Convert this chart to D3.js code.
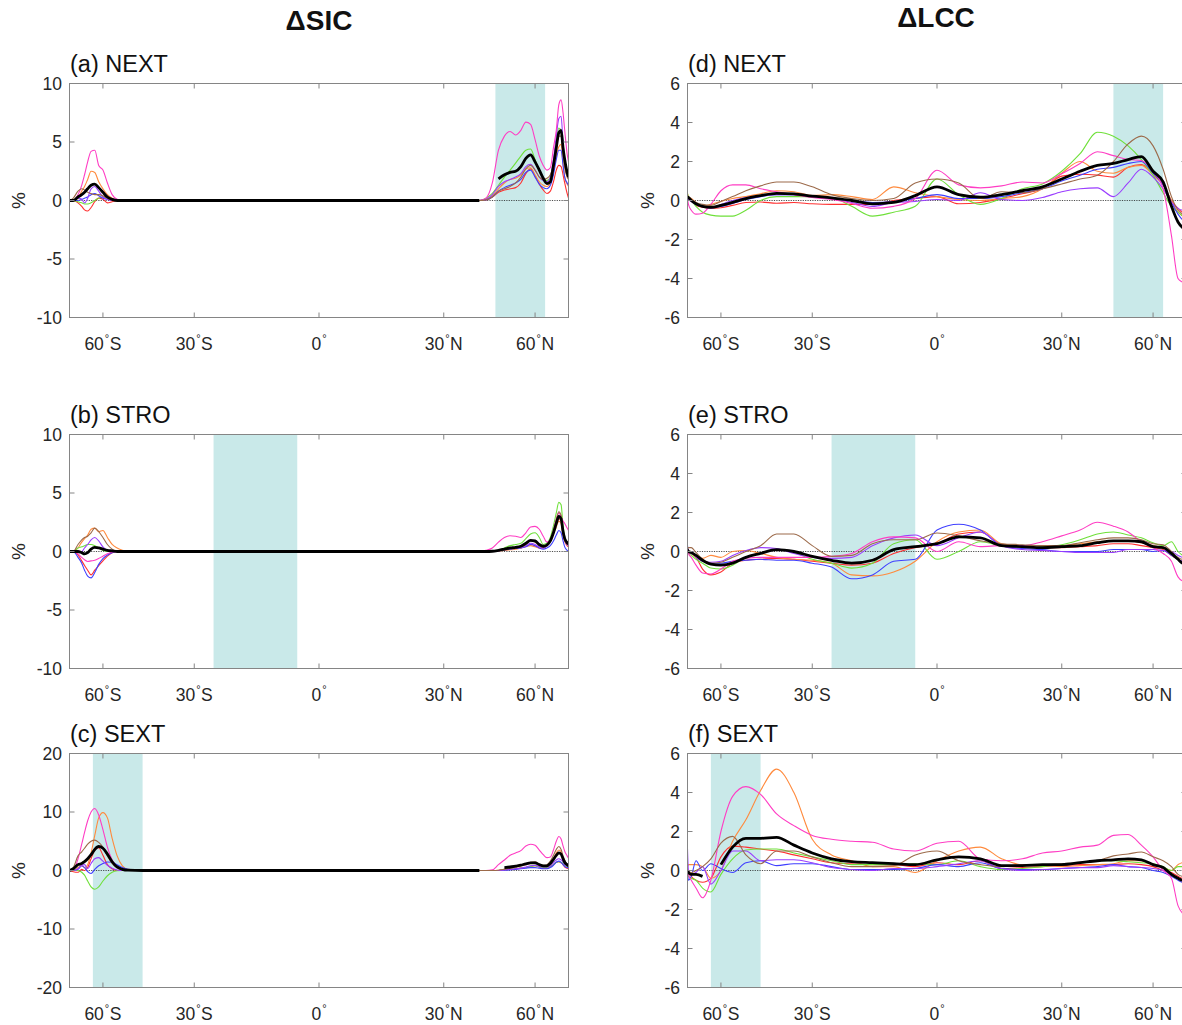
<!DOCTYPE html>
<html>
<head>
<meta charset="utf-8">
<script src="https://cdn.jsdelivr.net/npm/d3@7"></script>
<style>
  body { margin: 0; background: #fff; }
  svg { display: block; font-family: "Liberation Sans", Arial, Helvetica, sans-serif; }
</style>
</head>
<body>
<svg id="chart" width="1182" height="1025"></svg>
<script>
// ensemble members (last row of every table is the ensemble mean)
var members = ['red', 'orange', 'green', 'blue', 'purple', 'magenta', 'brown'];
var memberColors = ['#ff3030', '#ff8a3d', '#6fe03a', '#3f3fff', '#9a3dff', '#ff3dc4', '#9c6a4a'];

// latitude grids
var sicLatSH = [-90, -80, -75, -72, -70, -68, -66, -64, -62, -60, -58, -56, -54, -52, -50, -45, -40];
var sicLatNH = [40, 42, 44, 46, 48, 50, 52, 54, 56, 58, 60, 62, 64, 66, 68, 70, 72, 74, 76, 78, 80, 84, 90];
var lccLat = [-90, -85, -80, -75, -70, -65, -60, -55, -50, -45, -40, -35, -30, -25, -20, -15, -10, -5, 0,
  5, 10, 15, 20, 25, 30, 35, 40, 45, 50, 55, 60, 65, 70, 75, 80, 85, 90];

// axis ticks
var xTickLat = [-60, -30, 0, 30, 60];
var xTickText = [['60', 'S'], ['30', 'S'], ['0', ''], ['30', 'N'], ['60', 'N']];
var sicTicks = [-10, -5, 0, 5, 10];
var sicTicksWide = [-20, -10, 0, 10, 20];
var lccTicks = [-6, -4, -2, 0, 2, 4, 6];

// shaded forcing regions
var bandNEXT = [45, 65];
var bandSTRO = [-25, -5];
var bandSEXT = [-65, -45];

// (a) NEXT  dSIC
var sicNextSH = [
  [0, 0, -0.2, -0.5, -0.8, -0.9, -0.6, -0.1, 0.2, 0.1, -0.2, -0.1, 0, 0, 0, 0, 0],
  [0, 0, 0.2, 0.8, 1.2, 1.8, 2.5, 2.4, 1.6, 1.0, 0.5, 0.2, 0.05, 0, 0, 0, 0],
  [0, 0, -0.1, -0.2, -0.3, -0.3, -0.2, 0, 0.2, 0.3, 0.2, 0.05, 0, 0, 0, 0, 0],
  [0, 0, 0, 0.1, 0.2, 0.3, 0.5, 0.6, 0.4, 0.2, 0.1, 0, 0, 0, 0, 0, 0],
  [0, 0, 0.2, 0.1, -0.2, 0.2, 1.0, 1.2, 0.8, 0.3, 0.1, 0, 0, 0, 0, 0, 0],
  [0, 0, 0.5, 1.3, 2.2, 3.3, 4.2, 4.3, 3.0, 2.6, 1.5, 0.5, 0.1, 0, 0, 0, 0],
  [0, 0.2, 0.8, 1.0, 0.9, 0.7, 0.6, 0.5, 0.5, 0.4, 0.2, 0.05, 0, 0, 0, 0, 0],
  [0, 0, 0.3, 0.5, 0.7, 1.0, 1.3, 1.4, 1.1, 0.7, 0.3, 0.1, 0, 0, 0, 0, 0]
];
var sicNextNH = [
  [0, 0.05, 0.3, 0.7, 0.9, 1.0, 1.1, 1.5, 2.3, 2.7, 2.1, 1.4, 0.9, 0.6, 0.8, 1.6, 2.6, 3.0, 2.9, 2.2, 1.5, 0.6, 0.2],
  [0, 0.1, 0.4, 1.0, 1.5, 1.8, 1.9, 2.2, 2.7, 2.8, 2.2, 1.6, 1.3, 1.2, 1.5, 2.5, 3.8, 4.6, 4.8, 3.2, 2.0, 1.4, 1.2],
  [0, 0.2, 0.6, 1.3, 2.0, 2.6, 3.2, 3.8, 4.3, 4.4, 3.5, 2.5, 1.9, 1.7, 2.0, 3.2, 5.0, 6.2, 6.0, 4.0, 3.0, 2.2, 2.0],
  [0, 0.05, 0.3, 0.8, 1.1, 1.3, 1.5, 1.8, 2.4, 2.6, 2.0, 1.4, 1.1, 1.0, 1.3, 2.2, 3.5, 4.3, 4.3, 3.0, 2.0, 1.5, 1.3],
  [0, 0.1, 0.5, 1.2, 1.6, 1.8, 2.0, 2.3, 2.9, 3.1, 2.6, 2.0, 1.7, 1.6, 2.0, 3.5, 5.5, 7.0, 7.2, 5.0, 3.5, 2.5, 2.2],
  [0, 0.2, 1.5, 4.3, 5.5, 5.9, 5.6, 6.0, 6.7, 6.5, 5.2, 3.8, 3.0, 2.6, 2.8, 4.5, 6.0, 8.2, 8.6, 7.5, 6.0, 4.0, 3.3],
  [0, 0.05, 0.3, 0.8, 1.0, 1.2, 1.5, 2.0, 2.7, 3.0, 2.6, 2.0, 1.8, 1.9, 2.2, 3.0, 4.5, 5.5, 5.5, 4.0, 2.8, 2.0, 1.8],
  [0, null, null, 1.85, 2.2, 2.4, 2.5, 2.9, 3.6, 3.9, 3.3, 2.6, 1.9, 1.45, 1.6, 3.0, 4.5, 5.8, 6.0, 4.5, 3.5, 2.4, 2.0]
];

// (b) STRO  dSIC
var sicStroSH = [
  [0, 0, -0.3, -0.8, -1.2, -1.6, -2.0, -1.6, -1.2, -0.8, -0.4, -0.1, 0, 0, 0, 0, 0],
  [0, 0, 0.3, 0.8, 1.1, 1.4, 1.9, 2.0, 1.7, 1.8, 1.2, 0.6, 0.3, 0.1, 0, 0, 0],
  [0, 0, 0.3, 0.4, 0.5, 0.6, 0.6, 0.5, 0.3, 0.1, 0, 0, 0, 0, 0, 0, 0],
  [0, 0, -0.5, -1.0, -1.6, -2.1, -2.25, -1.8, -1.1, -0.6, -0.3, -0.1, 0, 0, 0, 0, 0],
  [0, 0, 0, 0, 0.3, 0.6, 1.0, 1.2, 0.9, 0.4, 0.1, 0, 0, 0, 0, 0, 0],
  [0, 0, -0.2, -0.5, -0.7, -0.85, -0.8, -0.75, -0.6, -0.4, -0.2, -0.05, 0, 0, 0, 0, 0],
  [0, 0, 0.6, 1.0, 1.2, 1.3, 1.6, 2.0, 1.7, 1.2, 0.6, 0.2, 0, 0, 0, 0, 0],
  [0, 0, 0, -0.1, -0.2, -0.1, 0.2, 0.35, 0.3, 0.2, 0.1, 0.05, 0, 0, 0, 0, 0]
];
var sicStroNH = [
  [0, 0, 0, 0.05, 0.15, 0.2, 0.25, 0.3, 0.45, 0.6, 0.5, 0.3, 0.3, 0.5, 0.9, 1.6, 2.3, 2.8, 2.6, 1.5, 0.9, 0.5, 0.4],
  [0, 0, 0, 0.05, 0.1, 0.15, 0.2, 0.3, 0.4, 0.5, 0.4, 0.3, 0.3, 0.5, 0.9, 1.5, 2.1, 2.6, 2.4, 1.4, 0.9, 0.6, 0.5],
  [0, 0, 0.05, 0.1, 0.3, 0.5, 0.6, 0.7, 1.1, 1.5, 1.6, 1.2, 0.6, 0.7, 1.2, 2.2, 3.3, 4.2, 4.0, 2.2, 1.3, 0.8, 0.5],
  [0, 0, 0, 0.05, 0.15, 0.2, 0.25, 0.3, 0.4, 0.6, 0.5, 0.3, 0.2, 0.3, 0.5, 0.9, 1.4, 1.8, 1.6, 0.9, 0.4, 0.1, 0],
  [0, 0, 0, 0.05, 0.15, 0.25, 0.3, 0.35, 0.5, 0.7, 0.6, 0.4, 0.3, 0.5, 0.9, 1.6, 2.4, 3.1, 2.9, 1.7, 1.0, 0.6, 0.5],
  [0, 0.1, 0.3, 0.8, 1.2, 1.35, 1.3, 1.2, 1.6, 2.1, 2.15, 1.9, 1.3, 0.8, 1.0, 1.8, 2.8, 3.3, 3.0, 2.6, 2.4, 2.0, 1.8],
  [0, 0, 0, 0.05, 0.15, 0.25, 0.3, 0.4, 0.6, 0.9, 0.8, 0.5, 0.4, 0.6, 1.0, 1.8, 2.7, 3.4, 3.1, 1.8, 1.1, 0.8, 0.7],
  [0, 0, 0.02, 0.1, 0.2, 0.3, 0.35, 0.45, 0.7, 0.95, 0.9, 0.6, 0.45, 0.55, 0.9, 1.6, 2.4, 3.0, 2.8, 1.7, 1.1, 0.75, 0.65]
];

// (c) SEXT  dSIC
var sicSextSH = [
  [0, -0.2, -0.3, 0.2, 0.0, 0.5, 2.0, 3.5, 3.9, 2.6, 1.0, 0.3, 0, 0, 0, 0, 0],
  [0, 0, 0.5, 0.8, 0.5, 1.0, 3.0, 6.0, 9.0, 9.9, 9.0, 5.5, 2.5, 0.8, 0.2, 0, 0],
  [0, 0, 0, -0.3, -0.8, -1.8, -2.8, -3.2, -2.8, -1.8, -0.9, -0.3, -0.05, 0, 0, 0, 0],
  [0, 0, 0.2, 0.8, 0.5, -0.2, -0.5, 0.2, 0.8, 1.2, 1.45, 1.4, 1.0, 0.5, 0.2, 0, 0],
  [0, 0, 0.3, 0.9, 1.0, 0.3, 1.2, 2.0, 2.2, 1.6, 0.9, 0.4, 0.1, 0, 0, 0, 0],
  [0, 0.1, 2.0, 4.5, 6.5, 8.5, 10.0, 10.6, 9.5, 7.0, 4.0, 1.8, 0.6, 0.1, 0, 0, 0],
  [0, 0.5, 2.5, 3.2, 3.8, 4.5, 5.0, 5.2, 4.8, 4.0, 2.5, 1.2, 0.4, 0.1, 0, 0, 0],
  [0, 0.3, 1.0, 1.2, 1.5, 2.0, 2.7, 3.6, 4.1, 3.8, 2.8, 1.5, 0.6, 0.2, 0.05, 0, 0]
];
var sicSextNH = [
  [0, 0, 0, 0, 0.1, 0.2, 0.3, 0.4, 0.5, 0.7, 0.8, 0.6, 0.4, 0.4, 0.6, 1.0, 1.4, 1.5, 1.3, 1.0, 0.6, 0.4, 0.3],
  [0, 0, 0, 0.05, 0.2, 0.4, 0.6, 0.8, 1.0, 1.2, 1.3, 1.0, 0.8, 0.8, 1.2, 2.0, 3.0, 3.5, 3.2, 2.0, 1.4, 0.9, 0.6],
  [0, 0, 0, 0, 0.1, 0.2, 0.3, 0.4, 0.5, 0.7, 0.8, 0.6, 0.5, 0.5, 0.7, 1.0, 1.4, 1.5, 1.4, 1.2, 0.9, 0.7, 0.6],
  [0, 0, 0, 0, 0.05, 0.1, 0.2, 0.3, 0.4, 0.5, 0.5, 0.4, 0.3, 0.3, 0.5, 0.9, 1.4, 1.6, 1.4, 1.0, 0.7, 0.5, 0.5],
  [0, 0, 0, 0, 0.1, 0.2, 0.3, 0.4, 0.6, 0.8, 0.9, 0.7, 0.6, 0.6, 0.8, 1.3, 1.8, 2.0, 1.8, 1.5, 1.0, 0.8, 0.8],
  [0, 0, 0.1, 1.0, 1.8, 2.6, 3.0, 3.4, 4.2, 4.5, 4.3, 3.5, 2.7, 2.2, 2.3, 3.5, 5.0, 5.8, 5.4, 4.2, 3.3, 2.5, 2.1],
  [0, 0, 0, 0.05, 0.2, 0.4, 0.6, 0.8, 1.1, 1.4, 1.5, 1.1, 0.9, 1.0, 1.6, 2.6, 3.6, 4.1, 3.6, 2.5, 1.8, 1.0, 0.6],
  [0, null, null, null, 0.5, 0.6, 0.75, 0.9, 1.15, 1.3, 1.3, 1.0, 0.8, 0.8, 1.2, 1.9, 2.6, 3.0, 2.8, 2.0, 1.4, 1.0, 0.8]
];

// (d) NEXT  dLCC
var lccNext = [
  [0.2, 0.1, 0.0, -0.25, -0.35, -0.4, -0.37, -0.25, -0.1, -0.08, -0.14, -0.1, -0.17, -0.2, -0.2, -0.2, 0.0, 0.1, 0.2, -0.17, -0.1, 0.1, 0.35, 0.6, 1.25, 1.35, 1.3, 1.2, 1.7, 1.85, 1.4, 0.8, 0.0, -0.4, -0.6, -0.6, -0.6],
  [0.35, 0.2, 0.1, -0.1, -0.3, -0.2, -0.05, 0.1, 0.2, 0.35, 0.5, 0.45, 0.25, 0.3, 0.2, 0.05, 0.7, 0.4, 0.2, 0.05, 0.0, 0.1, 0.2, 0.6, 1.4, 2.0, 1.5, 1.4, 1.7, 1.8, 1.3, 0.8, 0.0, -0.6, -0.8, -0.9, -1.0],
  [0.35, 0.15, 0.0, -0.3, -0.6, -0.75, -0.8, -0.8, -0.5, 0.0, 0.2, 0.2, 0.2, 0.15, -0.3, -0.8, -0.6, -0.3, 1.1, 0.3, -0.2, 0.1, 0.6, 0.85, 1.5, 2.4, 3.5, 3.3, 2.8, 2.1, 1.3, 0.4, -0.3, -0.6, -0.8, -0.9, -0.9],
  [0.2, 0.1, 0.0, -0.2, -0.3, -0.35, -0.3, -0.15, 0.05, 0.2, 0.3, 0.3, 0.2, 0.1, 0.0, -0.1, -0.05, 0.1, 0.3, 0.1, 0.1, 0.2, 0.4, 0.6, 1.0, 1.3, 1.6, 1.7, 1.9, 2.0, 1.4, 0.8, -0.1, -0.7, -1.0, -1.1, -1.1],
  [0.1, 0.05, -0.05, -0.2, -0.3, -0.4, -0.2, 0.0, 0.15, 0.25, 0.3, 0.3, 0.2, 0.1, -0.1, -0.3, -0.1, -0.05, 0.05, 0.0, 0.4, 0.05, 0.0, 0.15, 0.45, 0.6, 0.65, 0.2, 0.9, 1.6, 1.2, 0.6, -0.1, -0.4, -0.5, -0.5, -0.5],
  [0.1, -0.2, -0.5, -0.7, -0.65, -0.2, 0.5, 0.8, 0.8, 0.6, 0.45, 0.3, 0.15, 0.05, -0.15, -0.4, -0.3, 0.1, 1.55, 0.8, 0.65, 0.75, 0.95, 0.9, 1.37, 1.9, 2.5, 2.3, 2.1, 2.05, 1.5, 0.6, -1.8, -4.0, -4.2, -4.3, -4.3],
  [0.2, 0.15, 0.05, -0.1, -0.2, -0.25, -0.05, 0.2, 0.5, 0.75, 0.95, 0.95, 0.7, 0.3, 0.1, 0.0, 0.1, 0.9, 1.1, 0.9, 0.1, 0.45, 0.4, 0.6, 0.85, 1.1, 1.3, 2.0, 2.9, 3.3, 2.8, 1.6, 0.2, -0.5, -0.7, -0.8, -0.8],
  [0.17, 0.15, 0.0, -0.17, -0.3, -0.35, -0.25, -0.1, 0.1, 0.25, 0.37, 0.34, 0.22, 0.14, 0.0, -0.17, -0.1, 0.25, 0.7, 0.3, 0.17, 0.3, 0.5, 0.7, 1.1, 1.5, 1.8, 1.9, 2.1, 2.25, 1.5, 0.95, -0.3, -1.1, -1.4, -1.5, -1.5]
];

// (e) STRO  dLCC
var lccStro = [
  [0.0, -0.05, -0.1, -0.3, -0.9, -1.2, -1.05, -0.6, -0.45, -0.4, -0.35, -0.4, -0.5, -0.6, -0.7, -0.6, -0.1, 0.2, 0.4, 0.9, 1.0, 0.35, 0.25, 0.2, 0.2, 0.25, 0.3, 0.4, 0.4, 0.3, 0.2, 0.1, -0.2, -0.4, -0.5, -0.5, -0.5],
  [0.1, 0.0, -0.1, -0.3, -0.35, -0.2, -0.3, 0.0, 0.05, -0.1, -0.3, -0.4, -0.45, -0.6, -1.2, -1.25, -1.05, -0.5, 0.5, 1.0, 1.1, 0.4, 0.3, 0.3, 0.3, 0.4, 0.5, 0.55, 0.55, 0.45, 0.3, 0.2, -0.2, -0.4, -0.5, -0.5, -0.5],
  [0.1, -0.1, -0.2, -0.4, -0.6, -0.85, -0.9, -0.7, -0.3, -0.1, 0.1, -0.05, -0.4, -0.6, -0.85, -0.6, 0.4, 0.6, -0.4, 0.0, 0.5, 0.3, 0.2, 0.25, 0.35, 0.6, 0.9, 1.0, 0.85, 0.7, 0.45, 0.3, 0.5, 0.0, -0.2, -0.3, -0.3],
  [0.3, 0.0, -0.1, -0.2, -0.5, -0.6, -0.6, -0.5, -0.45, -0.4, -0.45, -0.45, -0.6, -0.8, -1.4, -1.2, -0.5, -0.4, 1.1, 1.4, 1.1, 0.3, 0.15, 0.1, 0.0, 0.0, 0.0, 0.1, 0.1, 0.1, 0.0, 0.05, -0.2, -0.4, -0.5, -0.5, -0.5],
  [0.2, -0.1, 0.0, -0.3, -0.5, -0.55, -0.5, -0.2, 0.05, 0.2, 0.15, -0.1, -0.3, -0.35, -0.3, 0.3, 0.7, 0.85, 0.3, 0.7, 1.0, 0.3, 0.1, 0.05, 0.0, -0.05, -0.05, -0.05, 0.1, 0.1, 0.1, 0.05, 0.0, -0.2, -0.3, -0.3, -0.3],
  [0.2, -0.1, -0.3, -0.7, -1.1, -1.15, -0.9, -0.5, -0.35, -0.3, -0.3, -0.3, -0.3, -0.25, -0.1, 0.5, 0.75, 0.7, 0.0, 0.5, 0.25, 0.3, 0.3, 0.5, 0.8, 1.1, 1.5, 1.3, 1.0, 0.5, 0.2, -0.1, -0.5, -1.3, -1.5, -1.5, -1.5],
  [0.1, 0.2, 0.2, -0.05, -0.4, -0.6, -0.55, -0.3, 0.0, 0.3, 0.9, 0.9, 0.3, -0.25, -0.2, 0.4, 0.6, 0.6, 0.95, 0.8, 0.55, 0.4, 0.35, 0.3, 0.3, 0.45, 0.6, 0.7, 0.7, 0.6, 0.4, 0.35, 0.0, -0.3, -0.4, -0.4, -0.4],
  [0.1, 0.0, -0.05, -0.2, -0.45, -0.65, -0.7, -0.6, -0.3, -0.1, 0.1, 0.0, -0.25, -0.45, -0.6, -0.45, 0.1, 0.25, 0.4, 0.75, 0.7, 0.3, 0.25, 0.2, 0.25, 0.3, 0.45, 0.55, 0.55, 0.5, 0.25, 0.2, -0.1, -0.4, -0.6, -0.6, -0.6]
];

// (f) SEXT  dLCC
var lccSext = [
  [-0.2, 0.0, -0.3, -0.5, -0.6, -0.4, 0.7, 1.25, 1.2, 1.1, 1.0, 0.8, 0.6, 0.4, 0.35, 0.3, 0.3, 0.2, 0.4, 0.3, 0.5, 0.1, 0.15, 0.2, 0.25, 0.3, 0.3, 0.3, 0.35, 0.3, 0.2, 0.0, -0.1, -0.3, -0.4, -0.4, -0.4],
  [0.2, 0.3, 0.3, 0.3, 0.2, -0.4, 0.0, 1.5, 2.6, 4.1, 5.2, 4.0, 1.6, 0.8, 0.5, 0.2, 0.2, -0.1, 0.5, 1.0, 1.2, 0.6, 0.3, 0.3, 0.2, 0.25, 0.3, 0.35, 0.5, 0.5, 0.3, 0.15, 0.0, 0.3, 0.4, 0.4, 0.4],
  [0.0, -0.3, -0.4, -0.5, -0.9, -1.1, -0.2, 0.6, 1.05, 1.1, 1.1, 0.9, 0.7, 0.5, 0.3, 0.3, 0.3, 0.35, 0.3, 0.5, 0.2, 0.05, 0.1, 0.2, 0.3, 0.4, 0.5, 0.5, 0.45, 0.4, 0.35, 0.2, 0.0, 0.2, 0.2, 0.2, 0.2],
  [-0.1, -0.5, -0.3, 0.5, 0.0, 0.35, 0.1, -0.1, 0.4, 0.5, 0.25, 0.35, 0.35, 0.2, 0.05, 0.05, 0.05, 0.1, 0.3, 0.2, 0.4, 0.1, 0.05, 0.05, 0.1, 0.15, 0.2, 0.3, 0.2, 0.15, 0.0, -0.1, -0.3, -0.5, -0.6, -0.6, -0.6],
  [1.1, 0.0, -0.2, -0.1, 0.2, -0.7, 0.0, 1.0, 1.0, 0.5, 0.55, 0.55, 0.4, 0.15, 0.05, 0.0, 0.1, 0.1, 0.2, 0.35, 0.5, 0.1, 0.0, 0.05, 0.1, 0.15, 0.15, 0.25, 0.2, 0.15, 0.1, 0.0, -0.2, -0.4, -0.5, -0.5, -0.5],
  [0.1, -0.2, -0.5, -0.9, -1.4, -0.5, 2.0, 3.8, 4.3, 3.9, 2.9, 2.3, 1.8, 1.6, 1.5, 1.45, 1.1, 1.0, 1.4, 1.5, 0.6, 0.5, 0.6, 0.9, 1.0, 1.2, 1.3, 1.8, 1.85, 1.3, 0.7, 0.0, -0.4, -1.8, -2.2, -2.3, -2.3],
  [0.0, -0.05, -0.1, 0.0, 0.2, 0.6, 1.4, 1.75, 0.8, 0.35, 1.0, 1.0, 0.7, 0.4, 0.2, 0.2, 0.25, 0.8, 1.0, 0.5, 0.3, 0.2, 0.3, 0.3, 0.35, 0.4, 0.5, 0.75, 0.85, 0.95, 0.7, 0.5, 0.2, -0.2, -0.3, -0.3, -0.3],
  [0.0, -0.1, -0.2, -0.2, -0.3, null, 0.3, 1.2, 1.65, 1.65, 1.7, 1.3, 0.9, 0.6, 0.45, 0.4, 0.35, 0.3, 0.55, 0.7, 0.6, 0.25, 0.25, 0.3, 0.3, 0.4, 0.5, 0.55, 0.6, 0.55, 0.3, 0.15, -0.2, -0.4, -0.5, -0.5, -0.5]
];

function joinHalves(sh, nh) {
  return sh.map(function(row, i) { return row.concat(nh[i]); });
}

var sicLat = sicLatSH.concat(sicLatNH);

var panels = [
  { label: '(a) NEXT', col: 0, row: 0, lat: sicLat, rows: joinHalves(sicNextSH, sicNextNH), ticks: sicTicks, band: bandNEXT },
  { label: '(b) STRO', col: 0, row: 1, lat: sicLat, rows: joinHalves(sicStroSH, sicStroNH), ticks: sicTicks, band: bandSTRO },
  { label: '(c) SEXT', col: 0, row: 2, lat: sicLat, rows: joinHalves(sicSextSH, sicSextNH), ticks: sicTicksWide, band: bandSEXT },
  { label: '(d) NEXT', col: 1, row: 0, lat: lccLat, rows: lccNext, ticks: lccTicks, band: bandNEXT },
  { label: '(e) STRO', col: 1, row: 1, lat: lccLat, rows: lccStro, ticks: lccTicks, band: bandSTRO },
  { label: '(f) SEXT', col: 1, row: 2, lat: lccLat, rows: lccSext, ticks: lccTicks, band: bandSEXT }
];

var colX = [69.5, 687.5];
var rowY = [83.5, 434.5, 753.5];
var plotW = 499;
var plotH = 234;
var ylabX = [18, 647];
var axisColor = '#858585';
var textColor = '#262626';
var tickFont = 17.5;

var svg = d3.select('#chart');
svg.append('rect').attr('width', 1182).attr('height', 1025).attr('fill', '#fff');

var rad = Math.PI / 180;

// column titles
svg.append('text').attr('x', 319).attr('y', 29.5).attr('text-anchor', 'middle')
  .attr('font-size', 28).attr('font-weight', 'bold').attr('fill', '#111').text('\u0394SIC');
svg.append('text').attr('x', 936).attr('y', 26.5).attr('text-anchor', 'middle')
  .attr('font-size', 28).attr('font-weight', 'bold').attr('fill', '#111').text('\u0394LCC');

panels.forEach(function(p, pi) {
  var x0 = colX[p.col], y0 = rowY[p.row];
  var x = d3.scaleLinear().domain([-1, 1]).range([x0, x0 + plotW]);
  var y = d3.scaleLinear().domain([p.ticks[0], p.ticks[p.ticks.length - 1]]).range([y0 + plotH, y0]);
  var sx = function(lat) { return x(Math.sin(lat * rad)); };

  var g = svg.append('g');
  var clipId = 'clip' + pi;
  g.append('clipPath').attr('id', clipId).append('rect')
    .attr('x', x0).attr('y', y0).attr('width', plotW).attr('height', plotH);

  // shaded band
  g.append('rect')
    .attr('x', sx(p.band[0])).attr('y', y0)
    .attr('width', sx(p.band[1]) - sx(p.band[0])).attr('height', plotH)
    .attr('fill', '#c9e9e9');

  // zero line
  g.append('line')
    .attr('x1', x0).attr('x2', x0 + plotW).attr('y1', y(0)).attr('y2', y(0))
    .attr('stroke', '#222').attr('stroke-width', 0.8).attr('stroke-dasharray', '1.2,1.2');

  var line = d3.line()
    .defined(function(d) { return d[1] != null; })
    .x(function(d) { return sx(d[0]); })
    .y(function(d) { return y(d[1]); })
    .curve(d3.curveMonotoneX);

  var lines = g.append('g').attr('clip-path', 'url(#' + clipId + ')');
  p.rows.forEach(function(vals, i) {
    var pts = p.lat.map(function(lat, k) { return [lat, vals[k]]; });
    var isMean = i === members.length;
    lines.append('path')
      .attr('d', line(pts))
      .attr('fill', 'none')
      .attr('stroke', isMean ? '#000' : memberColors[i])
      .attr('stroke-width', isMean ? 2.8 : 1.1)
      .attr('stroke-linejoin', 'round');
  });

  // box
  g.append('rect').attr('x', x0).attr('y', y0).attr('width', plotW).attr('height', plotH)
    .attr('fill', 'none').attr('stroke', axisColor).attr('stroke-width', 1);

  // x ticks and labels
  xTickLat.forEach(function(lat, k) {
    var tx = sx(lat);
    g.append('line').attr('x1', tx).attr('x2', tx).attr('y1', y0 + plotH).attr('y2', y0 + plotH - 5)
      .attr('stroke', axisColor);
    g.append('line').attr('x1', tx).attr('x2', tx).attr('y1', y0).attr('y2', y0 + 5)
      .attr('stroke', axisColor);
    var t = g.append('text').attr('x', tx).attr('y', y0 + plotH + 32)
      .attr('text-anchor', 'middle').attr('font-size', tickFont).attr('fill', textColor);
    t.append('tspan').text(xTickText[k][0]);
    t.append('tspan').text('\u00b0').attr('font-size', 11).attr('dy', -7.5).attr('dx', 1);
    if (xTickText[k][1]) t.append('tspan').text(xTickText[k][1]).attr('dy', 7.5).attr('dx', 0.5);
  });

  // y ticks and labels
  p.ticks.forEach(function(v) {
    var ty = y(v);
    g.append('line').attr('x1', x0).attr('x2', x0 + 5).attr('y1', ty).attr('y2', ty).attr('stroke', axisColor);
    g.append('line').attr('x1', x0 + plotW).attr('x2', x0 + plotW - 5).attr('y1', ty).attr('y2', ty).attr('stroke', axisColor);
    g.append('text').attr('x', x0 - 7.5).attr('y', ty).attr('dy', '0.36em')
      .attr('text-anchor', 'end').attr('font-size', tickFont).attr('fill', textColor).text(v);
  });

  // panel title and unit
  g.append('text').attr('x', x0 + 0.5).attr('y', y0 - 11.5).attr('font-size', 23.5).attr('fill', '#111').text(p.label);
  g.append('text').attr('transform', 'translate(' + ylabX[p.col] + ',' + (y0 + plotH / 2) + ') rotate(-90)')
    .attr('text-anchor', 'middle').attr('dy', '0.35em').attr('font-size', 19).attr('fill', textColor).text('%');
});
</script>
</body>
</html>
